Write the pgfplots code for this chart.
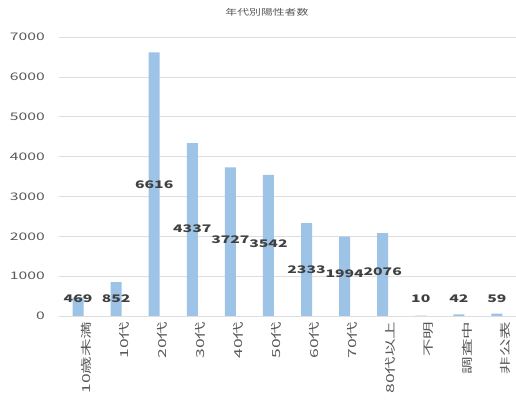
\documentclass[border=0pt]{standalone}
\usepackage{fontspec}
\setmainfont{Noto Sans CJK JP}
\usepackage{pgfplots}
\pgfplotsset{compat=1.18}
\definecolor{barblue}{RGB}{157,195,230}
\definecolor{labelgray}{RGB}{64,64,64}
\definecolor{tickgray}{RGB}{89,89,89}
\definecolor{gridgray}{RGB}{222,222,222}
\begin{document}
\begin{tikzpicture}
  \begin{axis}[
    name=ax,
    scale only axis,
    width=457bp,
    height=279bp,
    xmin=-0.5, xmax=11.5,
    ymin=0, ymax=7000,
    ytick={0,1000,...,7000},
    xtick={0,...,11},
    xticklabels={10歳未満,10代,20代,30代,40代,50代,60代,70代,80代以上,不明,調査中,非公表},
    major tick length=0pt,
    axis line style={draw=none},
    ymajorgrids,
    grid style={gridgray, line width=0.6pt},
    /pgf/number format/assume math mode=true,
    scaled y ticks=false,
    yticklabel style={font=\fontsize{10.5}{12}\selectfont, text=tickgray, xscale=1.5, anchor=east, xshift=-6bp,
      /pgf/number format/1000 sep={}},
    xticklabel style={font=\fontsize{11}{13}\selectfont, text=tickgray, rotate=90, xscale=1.6, anchor=east, yshift=-8bp},
    clip=false,
  ]
  \addplot[ybar, bar width=11bp, bar shift=0pt, fill=barblue, draw=none] coordinates {
    (0,469) (1,852) (2,6616) (3,4337) (4,3727) (5,3542)
    (6,2333) (7,1994) (8,2076) (9,10) (10,42) (11,59)
  };
  \addplot[draw=none, mark=none, nodes near coords, point meta=explicit symbolic,
    every node near coord/.style={anchor=center, font=\bfseries\fontsize{10.5}{12}\selectfont, text=labelgray, xscale=1.5, inner sep=0pt}]
    table[meta=label] {
    x y label
    0 430 469
    1 430 852
    2 3283 6616
    3 2180 4337
    4 1905 3727
    5 1805 3542
    6 1153 2333
    7 1053 1994
    8 1103 2076
    9 430 10
    10 430 42
    11 430 59
  };
  \node[font=\fontsize{8.5}{10}\selectfont, text=tickgray, xscale=1.4] at (axis description cs:0.455,1.09) {年代別陽性者数};
  \end{axis}
  \pgfresetboundingbox
  \path ([xshift=-59bp,yshift=-89bp]ax.south west) rectangle ([yshift=37bp]ax.north east);
\end{tikzpicture}
\end{document}
